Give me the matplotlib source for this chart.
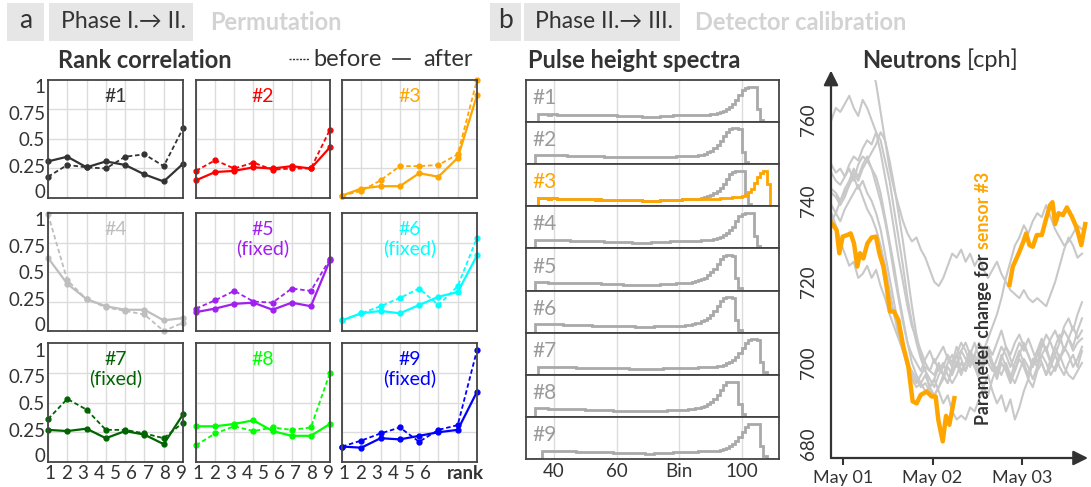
import numpy as np
import matplotlib.pyplot as plt
from matplotlib.patches import Rectangle
from matplotlib.lines import Line2D

plt.rcParams['font.family'] = ['Lato', 'DejaVu Sans']

W, H = 1091, 487
DARK = '#333333'

# ---------------- panel a: rank correlation before / after permutation
rank = [1, 2, 3, 4, 5, 6, 7, 8]
sensor_labels = ['#1', '#2', '#3', '#4', '#5\n(fixed)', '#6\n(fixed)',
                 '#7\n(fixed)', '#8', '#9\n(fixed)']
sensor_colors = ['#333333', '#FF0000', '#FFA500', '#BEBEBE', '#A020F0',
                 '#00FFFF', '#006400', '#00FF00', '#0000FF']
corr_after = [
    [0.31, 0.35, 0.26, 0.31, 0.28, 0.20, 0.14, 0.29],
    [0.15, 0.22, 0.23, 0.26, 0.25, 0.27, 0.25, 0.43],
    [0.02, 0.08, 0.10, 0.10, 0.21, 0.18, 0.34, 0.87],
    [0.62, 0.40, 0.27, 0.21, 0.18, 0.18, 0.09, 0.11],
    [0.16, 0.19, 0.23, 0.24, 0.18, 0.24, 0.21, 0.60],
    [0.09, 0.15, 0.17, 0.15, 0.22, 0.29, 0.33, 0.64],
    [0.27, 0.26, 0.28, 0.20, 0.26, 0.23, 0.15, 0.40],
    [0.30, 0.30, 0.32, 0.35, 0.26, 0.22, 0.22, 0.32],
    [0.13, 0.12, 0.20, 0.19, 0.22, 0.25, 0.27, 0.59],
]
corr_before = [
    [0.18, 0.28, 0.26, 0.25, 0.35, 0.37, 0.27, 0.59],
    [0.23, 0.32, 0.25, 0.30, 0.24, 0.25, 0.25, 0.58],
    [0.02, 0.06, 0.15, 0.27, 0.27, 0.28, 0.37, 1.00],
    [0.99, 0.43, 0.27, 0.20, 0.17, 0.14, 0.00, 0.07],
    [0.19, 0.26, 0.34, 0.25, 0.24, 0.36, 0.34, 0.61],
    [0.09, 0.15, 0.21, 0.28, 0.36, 0.22, 0.38, 0.79],
    [0.36, 0.53, 0.44, 0.27, 0.27, 0.24, 0.20, 0.33],
    [0.14, 0.24, 0.30, 0.26, 0.29, 0.27, 0.29, 0.75],
    [0.13, 0.18, 0.24, 0.29, 0.17, 0.27, 0.31, 0.94],
]
ytick_txt = ['0', '0.25', '0.5', '0.75', '1']
xtick_txt = ['1', '2', '3', '4', '5', '6', '7', '8', '9']

# ---------------- panel b: pulse height spectra (% of row height, bins from 32)
spec_first_bin = 32
spectra = [
    [0, 0, 0, 19, 19, 19, 18, 19, 19, 18, 18, 18, 18, 18, 18, 18, 17, 17, 17, 17, 17, 16, 17, 16, 16, 16, 16, 16, 15,
     15, 15, 15, 14, 14, 14, 14, 13, 13, 13, 13, 13, 13, 14, 14, 15, 15, 16, 16, 16, 17, 17, 17, 17, 17, 17, 17, 18, 18, 19,
     20, 22, 24, 27, 31, 36, 43, 52, 64, 76, 82, 84, 84, 83, 30, 6, 0, 0, 0, 0, 0],
    [0, 0, 22, 22, 22, 21, 21, 21, 21, 21, 21, 21, 20, 20, 20, 20, 20, 20, 19, 19, 19, 19, 19, 19, 18, 18, 18,
     18, 18, 17, 17, 17, 17, 17, 16, 16, 16, 16, 16, 16, 17, 17, 17, 18, 18, 18, 18, 19, 19, 19, 19, 19, 20, 20,
     21, 23, 25, 28, 32, 38, 45, 55, 66, 77, 83, 85, 85, 84, 30, 6, 0, 0, 0, 0, 0, 0, 0, 0, 0, 0],
    [0, 0, 0, 19, 19, 19, 18, 19, 19, 18, 18, 18, 18, 18, 18, 18, 17, 17, 17, 17, 17, 16, 17, 16, 16, 16, 16, 16, 15,
     15, 15, 15, 14, 14, 14, 14, 13, 13, 13, 13, 13, 13, 14, 14, 15, 15, 16, 16, 16, 17, 17, 17, 17, 17, 17,
     20, 22, 24, 27, 31, 36, 43, 52, 64, 76, 82, 84, 84, 83, 30, 6, 0, 0, 0, 0, 0, 0, 0, 0, 0],
    [0, 0, 20, 20, 20, 20, 19, 19, 19, 19, 19, 19, 19, 18, 18, 18, 18, 18, 18, 17, 17, 17, 17, 17, 16, 16, 16,
     16, 16, 15, 15, 15, 15, 14, 14, 14, 14, 14, 14, 15, 15, 15, 16, 16, 16, 17, 17, 17, 17, 17, 18, 18, 18, 18, 18, 19, 19, 19,
     20, 22, 24, 27, 31, 36, 43, 52, 64, 76, 82, 84, 84, 83, 30, 6, 0, 0, 0, 0, 0, 0],
    [0, 0, 20, 20, 20, 20, 19, 19, 19, 19, 19, 19, 18, 18, 18, 18, 18, 18, 17, 17, 17, 17, 17, 16, 16, 16, 15,
     15, 15, 15, 14, 14, 14, 14, 13, 13, 13, 13, 13, 14, 14, 14, 15, 15, 16, 16, 16, 17, 17, 17, 17, 18,
     20, 22, 24, 27, 31, 36, 43, 52, 64, 76, 82, 84, 84, 83, 30, 6, 0, 0, 0, 0, 0, 0, 0, 0, 0, 0],
    [0, 0, 21, 21, 21, 20, 20, 20, 20, 20, 20, 19, 19, 19, 19, 19, 18, 18, 18, 18, 17, 17, 17, 17, 16, 16, 16,
     16, 16, 15, 15, 15, 15, 15, 14, 14, 14, 14, 14, 14, 15, 15, 15, 16, 16, 16, 17, 17, 17, 17, 18, 18,
     20, 22, 24, 27, 31, 36, 43, 52, 64, 76, 82, 84, 84, 83, 30, 6, 0, 0, 0, 0, 0, 0, 0, 0, 0, 0],
    [0, 0, 0, 19, 19, 19, 19, 19, 18, 18, 18, 18, 18, 18, 18, 17, 17, 17, 17, 17, 17, 16, 16, 16, 16, 16, 16, 15,
     15, 15, 15, 15, 14, 14, 14, 14, 14, 13, 13, 13, 14, 14, 14, 15, 15, 15, 16, 16, 16, 17, 17, 17, 17, 17, 18, 18, 18, 18, 18, 19,
     20, 22, 24, 27, 31, 36, 43, 52, 64, 76, 82, 84, 84, 83, 30, 6, 0, 0, 0, 0],
    [0, 0, 20, 20, 20, 20, 19, 19, 19, 19, 19, 19, 18, 18, 18, 18, 18, 18, 17, 17, 17, 17, 17, 16, 16, 16, 16,
     15, 15, 15, 15, 14, 14, 14, 14, 14, 13, 13, 13, 14, 14, 14, 15, 15, 16, 16, 16, 17, 17, 17, 17, 18, 18,
     20, 22, 24, 27, 31, 36, 43, 52, 64, 76, 82, 84, 84, 83, 30, 6, 0, 0, 0, 0, 0, 0, 0, 0, 0],
    [0, 0, 0, 0, 18, 18, 19, 19, 18, 18, 18, 18, 18, 18, 18, 17, 17, 17, 17, 17, 17, 16, 16, 16, 16, 16, 16, 15,
     15, 15, 15, 15, 14, 14, 14, 14, 14, 13, 13, 13, 14, 14, 14, 15, 15, 15, 16, 16, 16, 17, 17, 17, 17, 17, 18, 18, 18, 18, 18, 19,
     20, 22, 24, 27, 31, 36, 43, 52, 64, 76, 82, 84, 84, 83, 30, 6, 0, 0, 0, 0],
]
spectrum3_after = [0, 0, 0, 19, 19, 19, 18, 19, 19, 18, 18, 18, 18, 18, 18, 18, 17, 17, 17, 17, 17, 16, 17, 16, 16, 16, 16, 16, 15,
                   15, 15, 15, 14, 14, 14, 14, 13, 13, 13, 13, 13, 13, 14, 14, 15, 15, 16, 16, 16, 17, 17, 17, 17, 17, 17, 17, 18, 18, 18,
                   18, 18, 19, 19, 20, 20, 21, 22, 23, 25, 28, 33, 40, 55, 70, 80, 83, 52, 0, 0, 0, 0]
spec_ticks = [40, 60, 80, 100]
spec_ticklabels = ['40', '60', 'Bin', '100']

# ---------------- panel b: neutron counts (time in days since May 01, ~1.2 h steps)
t_gray = np.round(np.arange(-0.13, 2.70, 0.05), 2)
neutrons_gray = [
    [760, 763, 762, 764, 766, 763, 761, 765, 763, 760, 757, 752, 746, 740, 733, 726, 720, 714, 709, 706,
     703, 700, 698, 697, 700, 697, 695, 699, 702, 698, 700, 703, 699, 697, 701, 704, 700, 698, 702, 699,
     696, 700, 703, 700, 697, 701, 699, 702, 704, 700, 698, 701, 704, 702, 699, 701, 704],
    [749, 747, 748, 746, 749, 751, 750, 753, 755, 754, 757, 755, 750, 745, 738, 731, 724, 716, 710, 705,
     701, 698, 696, 694, 697, 699, 702, 700, 704, 701, 698, 702, 705, 701, 699, 703, 700, 697, 701, 704,
     701, 698, 702, 705, 702, 699, 703, 706, 703, 700, 704, 707, 703, 706, 709, 706, 708],
    [747, 745, 744, 746, 748, 745, 749, 751, 750, 752, 754, 757, 755, 750, 744, 737, 730, 722, 714, 707,
     702, 698, 694, 692, 694, 697, 695, 698, 700, 697, 700, 703, 701, 698, 700, 702, 699, 696, 700, 698,
     695, 698, 701, 699, 696, 700, 703, 700, 697, 699, 702, 699, 697, 700, 702, 699, 703],
    [743, 742, 740, 742, 744, 747, 745, 748, 750, 748, 746, 742, 736, 730, 724, 717, 711, 705, 700, 697,
     695, 693, 694, 696, 699, 697, 700, 702, 699, 703, 705, 702, 700, 698, 701, 704, 702, 705, 708, 704,
     702, 705, 707, 704, 702, 699, 702, 705, 703, 706, 708, 705, 709, 711, 708, 712, 715],
    [742, 741, 739, 741, 744, 746, 743, 745, 742, 740, 737, 733, 727, 721, 715, 709, 704, 700, 697, 695,
     697, 699, 698, 701, 698, 700, 697, 695, 697, 700, 698, 701, 699, 696, 694, 697, 693, 690, 692, 688,
     691, 686, 689, 693, 696, 694, 698, 700, 697, 701, 704, 701, 703, 706, 704, 708, 711],
    [739, 737, 735, 738, 740, 742, 744, 741, 738, 736, 733, 729, 724, 718, 712, 707, 703, 699, 696, 694,
     695, 697, 694, 696, 693, 690, 692, 688, 686, 687, 686, 689, 688, 691, 694, 692, 696, 699, 697, 700,
     697, 695, 698, 701, 699, 696, 699, 702, 700, 697, 699, 702, 699, 697, 696, 698, 700],
    [737, 734, 730, 727, 724, 725, 721, 722, 724, 721, 723, 719, 716, 712, 709, 706, 703, 700, 698, 696,
     694, 695, 693, 692, 694, 696, 699, 697, 700, 703, 701, 699, 702, 700, 703, 706, 709, 712, 716, 721,
     725, 729, 731, 734, 732, 735, 737, 736, 739, 736, 733, 731, 729, 730, 732, 734, 733],
    [735, 737, 740, 743, 745, 748, 746, 749, 751, 748, 744, 740, 735, 729, 722, 716, 710, 705, 702, 700,
     698, 701, 703, 700, 702, 704, 701, 699, 702, 705, 703, 700, 702, 705, 703, 700, 698, 701, 704, 702,
     699, 702, 705, 703, 706, 703, 700, 704, 707, 705, 702, 705, 708, 706, 703, 705, 706],
    [795, 793, 794, 792, 790, 788, 786, 783, 779, 774, 769, 762, 755, 748, 743, 739, 735, 732, 730, 731,
     728, 726, 723, 720, 719, 721, 724, 727, 726, 728, 725, 727, 724, 726, 723, 721, 723, 725, 722, 720,
     718, 717, 716, 718, 716, 715, 716, 715, 714, 717, 720, 724, 728, 731, 729, 726, 727],
]
t_orange_1 = [-0.138, -0.071, -0.041, -0.004, 0.048, 0.086, 0.123, 0.160, 0.190, 0.227, 0.272, 0.320, 0.369,
              0.406, 0.451, 0.488, 0.525, 0.570, 0.618, 0.674, 0.730, 0.778, 0.823, 0.868, 0.935, 0.991,
              1.035, 1.065, 1.114, 1.151, 1.188, 1.244]
neutrons_orange_1 = [734.9, 732.8, 727.1, 731.2, 731.6, 732.0, 729.5, 723.8, 727.1, 725.8, 729.5, 731.0, 731.2,
                     727.1, 723.8, 718.8, 712.7, 712.7, 710.6, 704.0, 699.1, 690.5, 690.0, 692.1, 692.9, 691.7,
                     691.7, 685.9, 680.6, 686.9, 684.7, 691.3]
t_orange_2 = [1.860, 1.897, 1.960, 2.016, 2.046, 2.083, 2.120, 2.165, 2.221, 2.270, 2.314, 2.340, 2.370,
              2.408, 2.456, 2.501, 2.557, 2.613, 2.662, 2.706]
neutrons_orange_2 = [719.3, 723.8, 726.9, 730.0, 732.0, 729.1, 728.7, 731.6, 731.6, 735.7, 739.0, 739.7, 734.3,
                     737.0, 736.5, 738.4, 736.1, 733.2, 729.1, 734.3]
day_ticks = [0, 1, 2]
day_labels = ['May 01', 'May 02', 'May 03']
cph_ticks = [680, 700, 720, 740, 760]


def box(x0, y0, x1, y1):
    return [x0 / W, 1 - y1 / H, (x1 - x0) / W, (y1 - y0) / H]


def fx(x):
    return x / W


def fy(y):
    return 1 - y / H


fig = plt.figure(figsize=(W / 100, H / 100), dpi=100)

# header boxes
for x0, x1 in [(7, 44), (49, 193), (490, 521), (524, 680)]:
    fig.add_artist(Rectangle((fx(x0), fy(41)), (x1 - x0) / W, 38 / H,
                             transform=fig.transFigure, color='#E6E6E6', lw=0))
fig.text(fx(25.5), fy(21), 'a', fontsize=19, ha='center', va='center', color=DARK)
fig.text(fx(61), fy(22), 'Phase I.→ II.', fontsize=16.5, va='center', color=DARK)
fig.text(fx(210), fy(22), 'Permutation', fontsize=17, va='center', color='#D3D3D3', fontweight='bold')
fig.text(fx(505.5), fy(21), 'b', fontsize=19, ha='center', va='center', color=DARK)
fig.text(fx(535), fy(22), 'Phase II.→ III.', fontsize=16.5, va='center', color=DARK)
fig.text(fx(695), fy(22), 'Detector calibration', fontsize=17, va='center', color='#D3D3D3', fontweight='bold')

fig.text(fx(58), fy(60), 'Rank correlation', fontsize=17, va='center', color=DARK, fontweight='bold')
fig.add_artist(Line2D([fx(289), fx(309)], [fy(59), fy(59)], color=DARK, lw=1, ls=(0, (1.5, 1))))
fig.text(fx(313), fy(60), 'before', fontsize=17, va='center', color=DARK)
fig.add_artist(Line2D([fx(393), fx(410)], [fy(59), fy(59)], color=DARK, lw=1.2))
fig.text(fx(423), fy(60), 'after', fontsize=17, va='center', color=DARK)
fig.text(fx(528), fy(60), 'Pulse height spectra', fontsize=17, va='center', color=DARK, fontweight='bold')
t_neu = fig.text(fx(862), fy(60), 'Neutrons', fontsize=17, va='center', color=DARK, fontweight='bold')

# ---- panel a grid
cols = [(48, 183), (196, 330), (342, 477)]
rows = [(80, 198), (213, 331), (343, 462)]
ylab_pos = [0.06, 0.27, 0.5, 0.72, 0.945]
xlab_pos = np.linspace(1.1, 7.9, 9)
for i in range(9):
    r, c = divmod(i, 3)
    ax = fig.add_axes(box(cols[c][0], rows[r][0], cols[c][1], rows[r][1]))
    ax.xaxis.remove_overlapping_locs = False
    ax.yaxis.remove_overlapping_locs = False
    col = sensor_colors[i]
    ax.plot(rank, corr_before[i], color=col, lw=1.3, ls=(0, (2.5, 1.5)), marker='o', ms=3.5, clip_on=False)
    ax.plot(rank, corr_after[i], color=col, lw=1.6, marker='o', ms=3.5, clip_on=False)
    ax.set_xlim(1, 8)
    ax.set_ylim(0, 1)
    ax.set_xticks(rank)
    ax.set_yticks([0.25, 0.5, 0.75])
    ax.set_xticklabels([])
    ax.set_yticklabels([])
    ax.grid(which='major', color='#DCDCDC', lw=1)
    ax.set_axisbelow(True)
    ax.set_yticks(ylab_pos, minor=True)
    ax.set_xticks(xlab_pos, minor=True)
    ax.set_yticklabels(ytick_txt if c == 0 else [], minor=True)
    if r == 2:
        ax.set_xticklabels(xtick_txt if c < 2 else xtick_txt[:6] + ['', '', ''], minor=True)
    else:
        ax.set_xticklabels([], minor=True)
    ax.tick_params(which='both', length=0, labelsize=13.5, colors=DARK, pad=2)
    for s in ax.spines.values():
        s.set_color('#444444')
        s.set_linewidth(1.3)
    ax.text(0.5, 0.93, sensor_labels[i], transform=ax.transAxes, ha='center', va='top',
            fontsize=14, color=col, linespacing=1.05)
    if r == 2 and c == 2:
        ax.text(7.38, -0.025, 'rank', ha='center', va='top', fontsize=13.5,
                fontweight='bold', color=DARK, transform=ax.get_xaxis_transform())

# ---- spectra
row_h = (459 - 80) / 9
for i in range(9):
    ax = fig.add_axes(box(526, 80 + i * row_h, 779, 80 + (i + 1) * row_h))
    vals = np.array(spectra[i]) / 100
    edges = spec_first_bin + np.arange(len(vals) + 1)
    ax.stairs(vals, edges, color='#A9A9A9', lw=2, baseline=None)
    lab_col = '#9A9A9A'
    if i == 2:
        va = np.array(spectrum3_after) / 100
        ed = spec_first_bin + np.arange(len(va) + 1)
        ax.stairs(va, ed, color='#FFA500', lw=2, baseline=None)
        ax.plot([31, spec_first_bin], [0, 0], color='#FFA500', lw=2)
        ax.plot([ed[-1], 112], [0, 0], color='#FFA500', lw=2)
        lab_col = '#FFA500'
    ax.set_xlim(31, 112)
    ax.set_ylim(0, 1)
    ax.set_xticks(spec_ticks)
    ax.set_yticks([])
    ax.grid(axis='x', color='#DCDCDC', lw=1)
    ax.set_axisbelow(True)
    ax.set_xticklabels(spec_ticklabels if i == 8 else [])
    ax.tick_params(length=0, labelsize=13.5, colors=DARK, pad=3)
    for s in ax.spines.values():
        s.set_color('#444444')
        s.set_linewidth(1.3)
    ax.text(0.024, 0.57, '#%d' % (i + 1), transform=ax.transAxes, ha='left', va='center',
            fontsize=15, color=lab_col)

# ---- neutrons
axn = fig.add_axes(box(831, 80, 1088, 458))
for series in neutrons_gray:
    axn.plot(t_gray, series, color='#C8C8C8', lw=1.5)
axn.plot(t_orange_1, neutrons_orange_1, color='#FFA500', lw=3.2)
axn.plot(t_orange_2, neutrons_orange_2, color='#FFA500', lw=3.2)
axn.set_xlim(-0.134, 2.737)
axn.set_ylim(676.5, 769.9)
for s in axn.spines.values():
    s.set_visible(False)
axn.set_xticks(day_ticks)
axn.set_xticklabels(day_labels)
axn.set_yticks(cph_ticks)
axn.set_yticklabels([str(v) for v in cph_ticks], rotation=90, va='center')
axn.tick_params(axis='x', length=5, width=1.5, color=DARK, labelsize=13, labelcolor=DARK, pad=4)
axn.tick_params(axis='y', length=0, labelsize=13.5, labelcolor=DARK, pad=10)
arrow = dict(arrowstyle='-|>', color=DARK, lw=1.6, mutation_scale=22, shrinkA=0, shrinkB=0)
axn.annotate('', xy=(0, 1.025), xytext=(0, 0), xycoords='axes fraction', arrowprops=arrow, annotation_clip=False)
axn.annotate('', xy=(1.0, 0), xytext=(0, 0), xycoords='axes fraction', arrowprops=arrow, annotation_clip=False)

t_par = axn.text(1.57, 684.7, 'Parameter change for', rotation=90, ha='center', va='bottom',
                 fontsize=12.8, fontweight='bold', color=DARK)

fig.canvas.draw()
bb = t_par.get_window_extent()
fig.text((bb.x0 + bb.x1) / 2 / W, (bb.y1 + 4) / H, 'sensor #3', rotation=90, ha='center', va='bottom',
         fontsize=12.8, fontweight='bold', color='#FFA500')
bb = t_neu.get_window_extent()
fig.text((bb.x1 + 6) / W, fy(60), '[cph]', fontsize=17, va='center', color=DARK)

fig.savefig('out.png', dpi=100)
